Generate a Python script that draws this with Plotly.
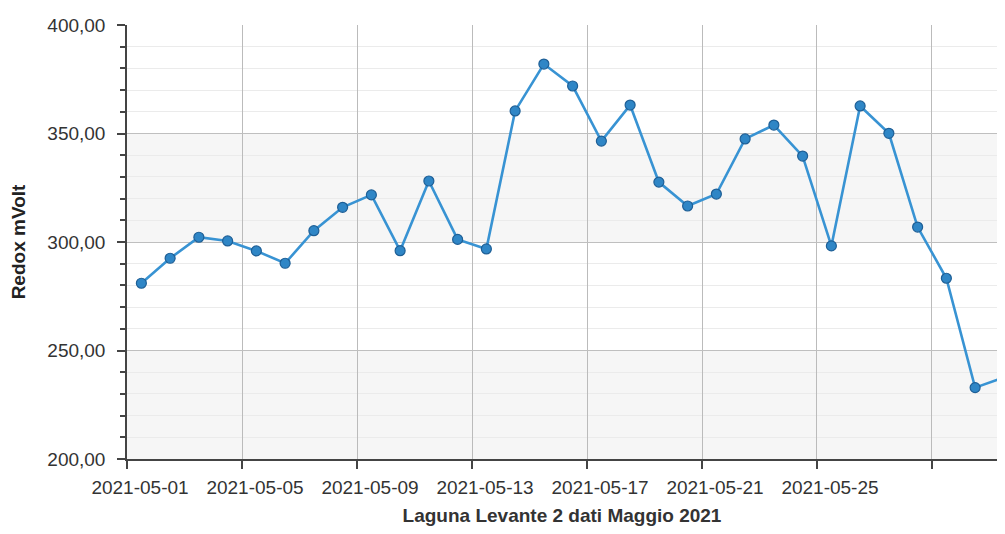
import plotly.graph_objects as go

dates = ["2021-05-%02d 12:00" % d for d in range(1, 32)]
redox = [281.0, 292.5, 302.2, 300.5, 295.9, 290.2, 305.2, 316.0, 321.7, 296.0,
         328.1, 301.2, 296.8, 360.4, 382.0, 371.9, 346.5, 363.1, 327.6, 316.6,
         322.1, 347.5, 353.9, 339.6, 298.2, 362.7, 350.1, 306.9, 283.3, 232.9, 237.6]

x_tickvals = ["2021-05-01", "2021-05-05", "2021-05-09", "2021-05-13", "2021-05-17",
              "2021-05-21", "2021-05-25", "2021-05-29"]
x_ticktext = ["2021-05-01", "2021-05-05", "2021-05-09", "2021-05-13", "2021-05-17",
              "2021-05-21", "2021-05-25", ""]
y_bands = [(300, 350), (200, 250)]

x_title = "Laguna Levante 2 dati Maggio 2021"
y_title = "Redox mVolt"

fig = go.Figure()
fig.add_trace(go.Scatter(
    x=dates, y=redox, mode="lines+markers",
    line=dict(color="#3893d3", width=2.6),
    marker=dict(size=10, color="#2f86c6", line=dict(color="#1e5f96", width=1.2)),
    hoverinfo="x+y", showlegend=False, cliponaxis=False,
))

for y0, y1 in y_bands:
    fig.add_shape(type="rect", xref="paper", yref="y", x0=0, x1=1, y0=y0, y1=y1,
                  fillcolor="#f6f6f6", line=dict(width=0), layer="below")

font_family = "Liberation Sans, Arial, sans-serif"
fig.update_layout(
    width=989, height=518,
    margin=dict(l=119, r=0, t=17, b=67),
    paper_bgcolor="white", plot_bgcolor="white",
    separators=",.",
    font=dict(family=font_family, size=19, color="#333333"),
    xaxis=dict(
        type="date", automargin=False,
        range=["2021-05-01 00:00", "2021-05-31 06:16"],
        tickvals=x_tickvals, ticktext=x_ticktext,
        ticks="outside", ticklen=8, tickcolor="#444444", tickwidth=1.5,
        showline=True, linecolor="#444444", linewidth=1.5,
        showgrid=True, gridcolor="#bbbbbb", gridwidth=1,
        tickfont=dict(size=19, color="#333333"),
        ticklabelshift=13, ticklabelstandoff=2,
        title=dict(text="<b>" + x_title + "</b>", font=dict(size=19, color="#333333"), standoff=16),
        zeroline=False,
    ),
    yaxis=dict(
        automargin=False,
        range=[200, 400], dtick=50, tick0=200, tickformat=".2f",
        ticks="outside", ticklen=8, tickcolor="#444444", tickwidth=1.5,
        showline=True, linecolor="#444444", linewidth=1.5,
        showgrid=True, gridcolor="#bfbfbf", gridwidth=1,
        minor=dict(dtick=10, showgrid=True, gridcolor="#ebebeb", ticks="outside",
                   ticklen=5, tickcolor="#444444"),
        tickfont=dict(size=19, color="#333333"),
        ticklabelstandoff=8,
        title=dict(text="<b>" + y_title + "</b>", font=dict(size=19, color="#222222"), standoff=17),
        zeroline=False,
    ),
)

fig.write_html("out.html")
